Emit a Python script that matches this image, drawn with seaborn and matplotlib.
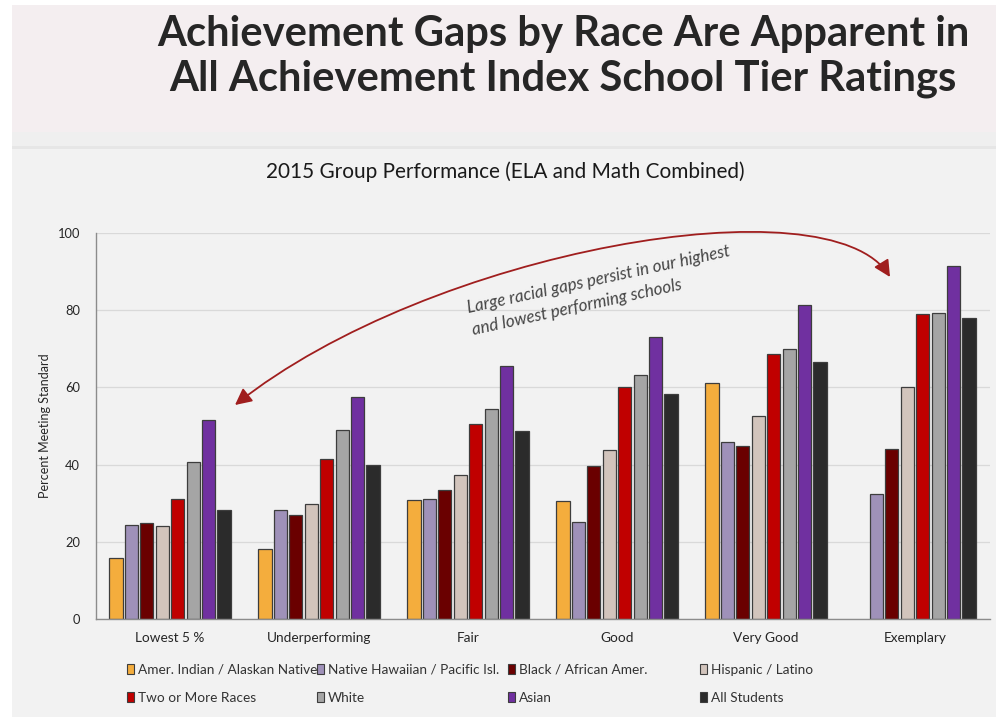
import numpy as np
import pandas as pd
import matplotlib
matplotlib.use("Agg")
import matplotlib.pyplot as plt
import seaborn as sns
from matplotlib.patches import Rectangle, FancyArrowPatch
from matplotlib.path import Path

# ---------------- data ----------------
categories = ["Lowest 5 %", "Underperforming", "Fair", "Good", "Very Good", "Exemplary"]
groups = ["Amer. Indian / Alaskan Native", "Native Hawaiian / Pacific Isl.",
          "Black / African Amer.", "Hispanic / Latino",
          "Two or More Races", "White", "Asian", "All Students"]
amer_indian = [15.9, 18.2, 30.9, 30.5, 61.1, np.nan]
native_hawaiian = [24.4, 28.2, 31.2, 25.1, 45.8, 32.3]
black = [24.8, 26.9, 33.3, 39.6, 44.9, 44.0]
hispanic = [24.1, 29.9, 37.3, 43.9, 52.7, 60.1]
two_or_more = [31.0, 41.5, 50.5, 60.0, 68.7, 79.1]
white = [40.8, 49.0, 54.5, 63.2, 70.0, 79.4]
asian = [51.6, 57.4, 65.5, 73.1, 81.4, 91.5]
all_students = [28.3, 39.9, 48.7, 58.2, 66.7, 78.1]
yticks = [0, 20, 40, 60, 80, 100]

series = [amer_indian, native_hawaiian, black, hispanic, two_or_more, white, asian, all_students]
colors = ["#f4ad3d", "#9f91b9", "#6a0000", "#d2c4bc", "#c00000", "#a5a5a5", "#7030a0", "#2b2b2b"]

rows = []
for g, vals in zip(groups, series):
    for c, v in zip(categories, vals):
        rows.append({"tier": c, "group": g, "value": v})
df = pd.DataFrame(rows)

# ---------------- figure ----------------
sns.set_theme(style="white")
plt.rcParams["font.family"] = ["Lato", "DejaVu Sans"]

W, H = 996, 717
fig = plt.figure(figsize=(W / 100, H / 100), dpi=100, facecolor="white")

def fx(px):
    return px / W

def fy(py):
    return (H - py) / H

# background panels
fig.patches.append(Rectangle((fx(12), fy(132)), fx(984), (132 - 5) / H,
                             transform=fig.transFigure, facecolor="#f4eef0",
                             edgecolor="none", zorder=-10))
fig.patches.append(Rectangle((fx(12), fy(146)), fx(984), 14 / H,
                             transform=fig.transFigure, facecolor="#efefef",
                             edgecolor="none", zorder=-10))
fig.patches.append(Rectangle((fx(12), fy(149)), fx(984), 3 / H,
                             transform=fig.transFigure, facecolor="#e6e6e6",
                             edgecolor="none", zorder=-10))
fig.patches.append(Rectangle((fx(12), 0), fx(984), (H - 149) / H,
                             transform=fig.transFigure, facecolor="#f2f2f2",
                             edgecolor="none", zorder=-10))

ax = fig.add_axes([fx(95.5), fy(619), fx(989.5) - fx(95.5), fy(233) - fy(619)])
ax.set_facecolor("none")

sns.barplot(data=df, x="tier", y="value", hue="group", order=categories,
            hue_order=groups, palette=colors, width=0.83, gap=0.14,
            edgecolor="#3d3d3d", linewidth=0.9, errorbar=None, ax=ax,
            legend=False, saturation=1)

ax.set_ylim(0, 100)
ax.set_xlim(-0.5, len(categories) - 0.5)
ax.set_yticks(yticks)
ax.yaxis.grid(True, color="#d9d9d9", linewidth=0.9)
ax.set_axisbelow(True)
for s in ["top", "right"]:
    ax.spines[s].set_visible(False)
for s in ["left", "bottom"]:
    ax.spines[s].set_color("#8c8c8c")
    ax.spines[s].set_linewidth(1.0)
ax.tick_params(axis="y", length=0, pad=11, labelsize=9.3, labelcolor="#262626")
ax.tick_params(axis="x", length=0, pad=9, labelsize=9.8, labelcolor="#262626")
ax.set_xlabel("")
ax.set_ylabel("Percent Meeting Standard", fontsize=9.0, color="#262626")
ax.yaxis.set_label_coords((51 - 95.5) / (989.5 - 95.5), 0.5)

# ---------------- titles ----------------
t1 = fig.text(fx(563.5), fy(46), "Achievement Gaps by Race Are Apparent in",
              ha="center", va="baseline", fontsize=30, fontweight="bold", color="#262626")
t2 = fig.text(fx(562.5), fy(90), "All Achievement Index School Tier Ratings",
              ha="center", va="baseline", fontsize=30, fontweight="bold", color="#262626")
t3 = fig.text(fx(505), fy(172), "2015 Group Performance (ELA and Math Combined)",
              ha="center", va="center", fontsize=12, color="#1a1a1a")

# ---------------- annotation ----------------
a1 = fig.text(fx(468), fy(313), "Large racial gaps persist in our highest",
              ha="left", va="baseline", rotation=12.3, rotation_mode="anchor",
              fontsize=12.5, style="italic", color="#454545")
a2 = fig.text(fx(473), fy(335), "and lowest performing schools",
              ha="left", va="baseline", rotation=12.3, rotation_mode="anchor",
              fontsize=12.5, style="italic", color="#454545")

fig.canvas.draw()
r = fig.canvas.get_renderer()
w1 = t1.get_window_extent(r).width
s = 30 * 811 / w1
t1.set_fontsize(s)
t2.set_fontsize(s)
w3 = t3.get_window_extent(r).width
t3.set_fontsize(12 * 476 / w3)
wa = a1.get_window_extent(r).width
sa = 12.5 * 267 / wa
a1.set_fontsize(sa)
a2.set_fontsize(sa)

pts = [(235, 405), (430, 250), (830, 180), (890, 277)]
verts = [(fx(x), fy(y)) for x, y in pts]
path = Path(verts, [Path.MOVETO, Path.CURVE4, Path.CURVE4, Path.CURVE4])
arrow = FancyArrowPatch(path=path, arrowstyle="<|-|>,head_length=0.5,head_width=0.25",
                        mutation_scale=20, color="#a01e1e", linewidth=1.3,
                        transform=fig.transFigure)
fig.patches.append(arrow)

# ---------------- legend ----------------
handles = [Rectangle((0, 0), 1, 1, facecolor=c, edgecolor="#3d3d3d", linewidth=0.8)
           for c in colors]
col_x = [127, 317, 508, 700]
for i, x in enumerate(col_x):
    fig.legend([handles[i], handles[i + 4]], [groups[i], groups[i + 4]],
               loc="upper left", bbox_to_anchor=(fx(x), fy(664)),
               bbox_transform=fig.transFigure, frameon=False, ncol=1,
               fontsize=9.8, handlelength=0.5, handleheight=0.8,
               handletextpad=0.3, borderpad=0, borderaxespad=0,
               labelspacing=1.14, labelcolor="#333333")

fig.savefig("out.png", dpi=100, facecolor=fig.get_facecolor())
